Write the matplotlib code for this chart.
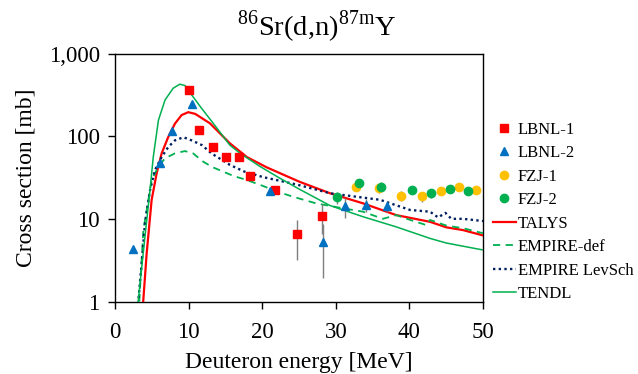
import numpy as np
import matplotlib
matplotlib.use("Agg")
import matplotlib.pyplot as plt
from matplotlib.lines import Line2D
from matplotlib.ticker import FixedLocator, FixedFormatter, NullLocator

plt.rcParams['font.family'] = ['Liberation Serif', 'DejaVu Serif']
plt.rcParams['mathtext.fontset'] = 'custom'
plt.rcParams['mathtext.rm'] = 'Liberation Serif'

# experimental data (energy MeV, cross section mb, error mb)
lbnl1_e = [10.0, 11.4, 13.3, 15.1, 16.9, 18.4, 21.7, 24.7, 28.1]
lbnl1_y = [364, 119, 74, 56, 56, 33, 22.6, 6.5, 10.8]
lbnl1_err = [0, 0, 0, 0, 0, 0, 2.0, 3.3, 4.3]

lbnl2_e = [2.4, 6.1, 7.8, 10.5, 21.0, 28.3, 31.2, 34.1, 36.9]
lbnl2_y = [4.3, 47, 116, 246, 21.5, 5.3, 14.1, 14.7, 14.1]
lbnl2_err = [0, 0, 0, 0, 2.0, 3.4, 4.0, 2.5, 2.0]

fzj1_e = [32.8, 35.9, 38.9, 41.7, 44.3, 46.8, 49.1]
fzj1_y = [24.6, 23.4, 19.1, 18.7, 21.9, 24.1, 22.4]
fzj1_err = [3.0, 3.0, 2.5, 2.5, 2.5, 2.5, 2.5]

fzj2_e = [30.1, 33.2, 36.2, 40.4, 43.0, 45.5, 48.0]
fzj2_y = [18.2, 27.0, 24.6, 22.6, 20.4, 23.0, 22.0]
fzj2_err = [3.0, 3.0, 3.0, 2.5, 2.5, 2.5, 2.5]

# model calculations
talys_e = [3.6, 3.85, 4.3, 4.98, 5.66, 6.34, 7.24, 8.15, 9.05, 9.95, 10.9, 12.9,
           15.6, 17.9, 20.6, 25.1, 29.2, 33.7, 38.2, 42.8, 45.0, 47.3, 50.0]
talys_y = [0.5, 1.05, 3.8, 17, 35.5, 62, 98, 142, 180, 195, 186, 143,
           82, 56, 42, 28, 20.4, 15.4, 11.1, 9.2, 7.9, 7.3, 6.3]

empdef_e = [3.0, 3.3, 3.85, 4.98, 5.9, 6.8, 8.15, 9.5, 10.6, 12.0, 13.3, 16.1,
            17.9, 20.1, 22.0, 24.2, 27.3, 31.0, 33.7, 36.4, 38.2, 40.1, 42.3,
            42.8, 45.0, 47.3, 50.0]
empdef_y = [0.5, 1.0, 7.3, 29.5, 43, 54, 62, 66, 62, 49, 42, 33,
            29.5, 25, 21.4, 18.5, 15.4, 13.4, 12.2, 10.0, 11.1, 9.7, 8.4,
            9.7, 8.3, 7.7, 6.7]

levsch_e = [2.9, 3.17, 3.62, 4.07, 4.75, 5.43, 6.34, 7.24, 8.15, 9.3, 10.4, 11.8,
            13.1, 15.6, 17.5, 20.1, 24.7, 29.2, 32.8, 36.0, 40.1, 42.8, 43.9,
            44.9, 45.7, 47.3, 50.0]
levsch_y = [0.5, 1.0, 2.9, 8.8, 22, 39, 56, 74, 89, 97, 89, 78,
            62, 45, 37.5, 32, 26, 20.4, 18.5, 17, 12.8, 12.2, 10.4,
            11.8, 10.0, 10.0, 9.4]

tendl_e = [2.9, 3.17, 4.07, 4.75, 5.2, 5.9, 6.8, 7.9, 8.8, 9.5, 10.6, 11.8,
           13.35, 15.6, 17.0, 19.7, 22.4, 25.1, 29.2, 33.7, 38.2, 42.8, 45.0, 50.0]
tendl_y = [0.5, 1.05, 6.1, 22, 56, 156, 274, 380, 425, 410, 300, 215,
           143, 78, 62, 43, 31, 22.7, 14.5, 10.6, 8.0, 5.8, 5.1, 4.2]

y_ticks = [1, 10, 100, 1000]
y_labels = ['1', '10', '100', '1,000']

fig = plt.figure(figsize=(6.38, 3.74), dpi=100)
ax = fig.add_axes([115/638, 1 - 301.5/374, 368/638, 248/374])

l_talys, = ax.plot(talys_e, talys_y, color='#FF0000', lw=1.6, zorder=3)
l_empdef, = ax.plot(empdef_e, empdef_y, color='#00B050', lw=1.3, ls=(0, (4, 3)), zorder=3)
l_levsch, = ax.plot(levsch_e, levsch_y, color='#002060', lw=1.7, ls=(0, (1, 1.4)), zorder=3)
l_tendl, = ax.plot(tendl_e, tendl_y, color='#00B050', lw=1.1, zorder=3)

ekw = dict(ecolor='#7F7F7F', elinewidth=1.0, capsize=0, ls='none', zorder=4)
ax.errorbar(lbnl1_e, lbnl1_y, yerr=lbnl1_err, marker='s', ms=5.8, mfc='#FF0000',
            mec='#FF0000', **ekw)
ax.errorbar(lbnl2_e, lbnl2_y, yerr=lbnl2_err, marker='^', ms=6.3, mfc='#0070C0',
            mec='#0070C0', **ekw)
ax.errorbar(fzj1_e, fzj1_y, yerr=fzj1_err, marker='o', ms=6.0, mfc='#FFC000',
            mec='#FFC000', **ekw)
ax.errorbar(fzj2_e, fzj2_y, yerr=fzj2_err, marker='o', ms=6.0, mfc='#00B050',
            mec='#00B050', **ekw)

ax.set_yscale('log')
ax.set_xlim(0, 50)
ax.set_ylim(1, 1000)
ax.set_xticks(range(0, 51, 10))
ax.yaxis.set_major_locator(FixedLocator(y_ticks))
ax.yaxis.set_major_formatter(FixedFormatter(y_labels))
ax.yaxis.set_minor_locator(NullLocator())
ax.tick_params(axis='both', direction='out', length=5, width=1, labelsize=16.5)
ax.tick_params(axis='x', pad=10)
ax.tick_params(axis='y', pad=6)
for s in ax.spines.values():
    s.set_linewidth(1.0)

ax.set_xlabel('Deuteron energy [MeV]', fontsize=17, labelpad=6)
ax.set_ylabel('Cross section [mb]', fontsize=17, labelpad=9)
fig.text(317/638, 1 - 27/374, r'$^{\mathrm{86}}$Sr(d,n)$^{\mathrm{87m}}$Y',
         fontsize=20.5, ha='center', va='center')

handles = [
    Line2D([], [], ls='none', marker='s', ms=5.5, color='#FF0000'),
    Line2D([], [], ls='none', marker='^', ms=6, color='#0070C0'),
    Line2D([], [], ls='none', marker='o', ms=6, color='#FFC000'),
    Line2D([], [], ls='none', marker='o', ms=6, color='#00B050'),
    l_talys, l_empdef, l_levsch, l_tendl,
]
labels = ['LBNL-1', 'LBNL-2', 'FZJ-1', 'FZJ-2', 'TALYS', 'EMPIRE-def',
          'EMPIRE LevSch', 'TENDL']
fig.legend(handles, labels,
           loc='center left', bbox_to_anchor=(493/638, 1 - 212/374),
           frameon=False, fontsize=12, borderpad=0, borderaxespad=0,
           labelspacing=0.45, handlelength=1.35, handletextpad=0.15,
           numpoints=1)

fig.savefig('out.png', dpi=100)
